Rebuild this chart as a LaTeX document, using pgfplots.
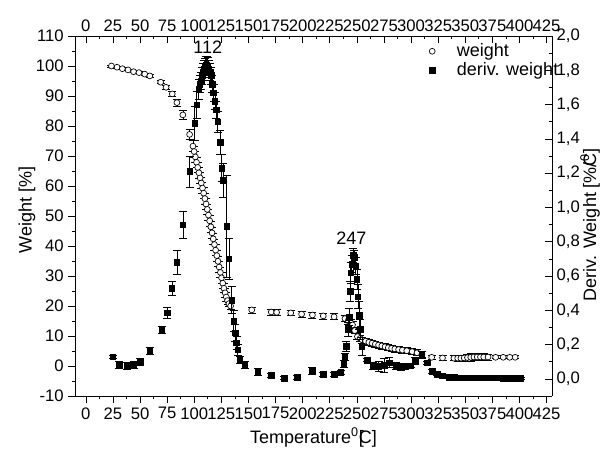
\documentclass[border=0pt]{standalone}
\usepackage{pgfplots}
\pgfplotsset{compat=1.18}
\usepackage{fontspec}
\setmainfont{Liberation Sans}

% weight [%] vs temperature, with error
\pgfplotstableread{
T W e
23.6 100.0 0.3
28.8 99.6 0.3
33.7 99.1 0.3
38.9 98.7 0.3
44.0 98.1 0.3
49.0 97.8 0.3
54.3 97.3 0.3
59.0 96.7 0.4
69.0 94.6 0.5
74.0 92.9 0.8
79.7 90.7 0.8
84.0 87.8 1.2
89.5 83.7 1.5
95.7 77.2 1.8
98.8 73.3 1.8
99.9 71.5 1.8
101.0 69.7 1.8
102.1 67.9 1.8
103.2 66.2 1.8
104.3 64.4 1.8
105.4 62.7 1.8
106.5 61.0 1.8
107.6 59.3 1.8
108.7 57.6 1.8
109.8 55.8 1.8
110.9 54.0 1.8
112.0 52.2 1.8
113.1 50.3 1.8
114.2 48.4 1.8
115.3 46.4 1.8
116.4 44.4 1.8
117.5 42.4 1.8
118.6 40.5 1.8
119.7 38.6 1.8
120.8 36.8 1.8
121.9 34.9 1.8
123.0 33.0 1.8
124.1 31.2 1.8
125.2 29.4 1.8
126.3 27.6 1.8
127.4 25.9 1.5
128.5 24.4 1.5
129.6 23.0 1.5
130.7 21.8 1.2
132.0 20.8 1.0
133.5 20.0 1.0
153.0 18.7 1.0
171.0 18.0 1.0
176.0 17.9 1.0
189.0 17.7 0.8
199.0 17.3 1.0
209.0 17.0 1.0
219.0 16.7 1.0
229.0 16.4 1.0
239.0 15.8 1.0
242.0 15.1 1.2
244.5 14.4 1.2
246.0 13.7 1.2
248.0 11.8 1.0
250.5 9.8 1.0
253.0 9.2 1.0
255.0 8.7 1.0
258.0 8.3 1.0
261.0 7.9 1.0
264.0 7.6 1.0
267.0 7.3 1.0
270.0 7.0 1.0
273.0 6.7 1.0
276.0 6.4 1.0
279.0 6.1 1.0
282.0 5.9 1.0
285.0 5.7 1.0
288.5 5.5 1.0
292.0 5.3 1.0
296.0 5.1 1.0
301.0 4.8 1.0
305.5 4.4 1.0
310.0 3.9 1.0
319.0 2.9 0.8
329.0 2.7 0.8
339.5 2.6 0.8
343.0 2.6 1.0
346.0 2.6 1.0
349.0 2.7 1.0
352.0 2.8 1.2
355.0 2.9 1.2
358.0 3.0 1.2
361.0 3.0 1.2
364.0 3.0 1.2
367.0 3.0 1.2
371.0 3.0 1.0
378.0 2.9 0.5
385.0 2.9 0.5
391.0 2.9 0.5
396.0 2.9 0.5
}\weight

% derivative of weight [%/C] vs temperature, with error
\pgfplotstableread{
T D e
25.0 0.128 0.01
31.0 0.082 0.02
38.0 0.076 0.02
44.0 0.082 0.02
50.0 0.099 0.02
59.0 0.164 0.02
70.0 0.286 0.02
75.0 0.385 0.03
79.4 0.530 0.04
84.0 0.680 0.07
89.5 0.900 0.08
95.7 1.210 0.09
100.3 1.490 0.10
102.2 1.600 0.08
104.0 1.690 0.06
105.2 1.720 0.05
106.3 1.740 0.05
107.4 1.770 0.05
108.5 1.790 0.05
109.3 1.810 0.05
110.0 1.820 0.05
110.8 1.830 0.05
111.6 1.830 0.05
112.5 1.825 0.05
113.4 1.810 0.05
114.5 1.790 0.05
115.6 1.770 0.05
116.7 1.720 0.05
117.8 1.670 0.05
119.0 1.620 0.05
120.2 1.570 0.05
121.7 1.500 0.06
124.0 1.380 0.07
125.4 1.230 0.08
126.4 1.160 0.10
130.0 0.890 0.30
132.0 0.700 0.12
134.6 0.460 0.08
136.4 0.340 0.06
138.0 0.270 0.05
139.0 0.210 0.04
140.0 0.170 0.03
142.0 0.110 0.02
146.5 0.080 0.02
158.5 0.040 0.02
171.0 0.020 0.01
183.0 0.005 0.01
195.0 0.010 0.01
209.0 0.047 0.02
219.0 0.027 0.01
229.0 0.027 0.01
235.0 0.037 0.01
238.0 0.090 0.02
239.0 0.130 0.02
240.4 0.190 0.03
242.2 0.290 0.04
243.0 0.360 0.05
243.8 0.510 0.06
244.4 0.620 0.06
245.3 0.670 0.05
246.5 0.720 0.04
247.4 0.710 0.04
249.0 0.660 0.05
250.0 0.580 0.06
251.0 0.480 0.07
252.0 0.370 0.08
253.0 0.290 0.06
254.6 0.190 0.05
259.7 0.110 0.01
265.0 0.076 0.02
270.0 0.072 0.03
275.0 0.080 0.04
280.0 0.095 0.03
286.0 0.076 0.02
290.5 0.068 0.02
295.0 0.072 0.01
299.6 0.076 0.01
304.0 0.107 0.02
310.0 0.140 0.02
315.0 0.095 0.01
319.6 0.043 0.01
324.0 0.027 0.005
328.7 0.017 0.005
335.0 0.010 0.005
340.0 0.008 0.005
345.0 0.007 0.005
350.0 0.007 0.005
355.0 0.007 0.005
360.0 0.007 0.005
365.0 0.007 0.005
370.0 0.007 0.005
375.0 0.007 0.005
380.0 0.006 0.005
385.0 0.005 0.005
390.0 0.005 0.005
395.0 0.005 0.005
401.0 0.004 0.005
}\deriv

\pgfplotsset{
  tcommon/.style={
    scale only axis, width=357.75pt, height=270pt,
    at={(0,0)}, anchor=south west,
    xmin=-10, xmax=430,
    xtick={0,25,...,425}, minor x tick num=1,
    major tick length=5pt, minor tick length=2.5pt,
    tick style={black, line width=0.5pt},
    axis line style={line width=0.6pt},
    tick label style={font=\fontsize{12.5}{14}\selectfont},
    label style={font=\fontsize{13.5}{16}\selectfont},
    /pgf/number format/assume math mode=true,
    scaled ticks=false,
    error bars/error bar style={black, line width=0.5pt},
    error bars/error mark options={rotate=90, mark size=3pt, line width=0.5pt},
  },
  wstyle/.style={only marks, mark=*, mark size=2.2pt, mark options={draw=black, fill=white, line width=0.5pt}},
  dstyle/.style={only marks, mark=square*, mark size=2.1pt, mark options={draw=black, fill=black}},
}

\begin{document}
\begin{tikzpicture}
\useasboundingbox (-56.25pt,-44.25pt) rectangle (398.25pt,297pt);

\begin{axis}[tcommon,
  axis x line*=bottom, axis y line*=left, tick align=outside,
  ymin=-10, ymax=110, ytick={-10,0,...,110}, minor y tick num=1,
  xlabel={Temperature\textsuperscript{0}\rlap{[}C]},
  xlabel style={at={(axis description cs:0.5,-0.114)}, anchor=center},
  ylabel={Weight [\%]},
  ylabel style={at={(axis description cs:-0.1006,0.517)}, anchor=center, rotate=0},
]
\addplot[wstyle, error bars/.cd, y dir=both, y explicit] table[x=T, y=W, y error=e] {\weight};
\node[font=\fontsize{13.5}{16}\selectfont] at (axis cs:112.4,106.3) {112};
\node[font=\fontsize{13.5}{16}\selectfont] at (axis cs:245,42.7) {247};
\end{axis}

\begin{axis}[tcommon,
  axis x line*=top, axis y line*=right, tick align=inside,
  ymin=-0.1, ymax=2.0, ytick={0,0.2,...,2.0}, minor y tick num=1,
  yticklabel style={/pgf/number format/.cd, fixed, fixed zerofill, precision=1, use comma},
  ylabel={Deriv. Weight [\%\rlap{/\textsuperscript{0}}C]},
  ylabel style={at={(axis description cs:1.0797,0.475)}, anchor=center, rotate=0},
  legend style={at={(rel axis cs:0.732,0.994)}, anchor=north west, draw=none, fill=none,
    font=\fontsize{13.5}{16}\selectfont, row sep=-1pt},
  legend image code/.code={\path[draw=none, fill=none] (0cm,0cm) -- (0.68cm,0cm); \draw[#1] plot coordinates {(0.1cm,0cm)};},
  legend cell align=left,
]
\addlegendimage{wstyle}
\addlegendentry{weight}
\addlegendimage{dstyle}
\addlegendentry{deriv. weight}
\addplot[dstyle, error bars/.cd, y dir=both, y explicit] table[x=T, y=D, y error=e] {\deriv};
\end{axis}
\end{tikzpicture}
\end{document}
